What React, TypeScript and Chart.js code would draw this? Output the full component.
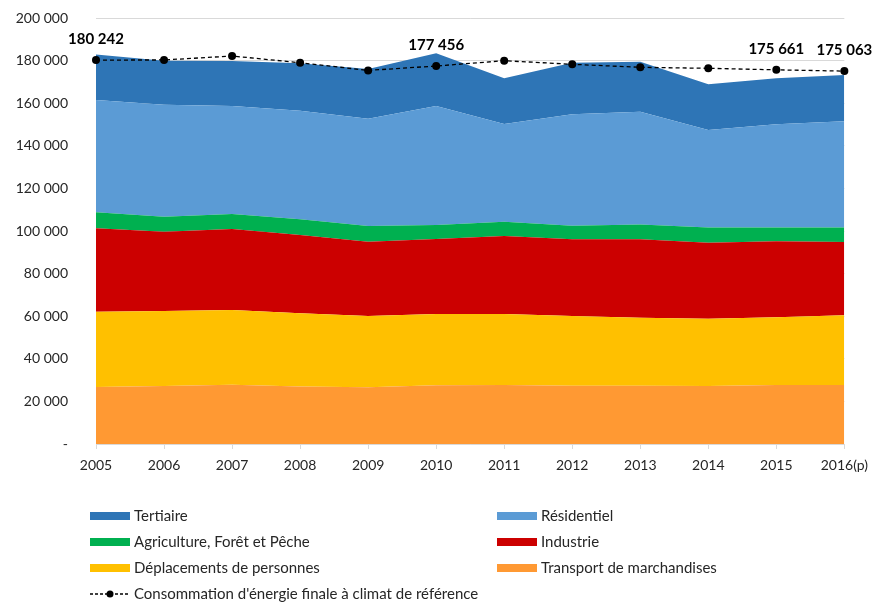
import React, { useEffect, useRef } from "react";
import { Chart, registerables } from "chart.js";

Chart.register(...registerables);

const years = ["2005", "2006", "2007", "2008", "2009", "2010", "2011", "2012", "2013", "2014", "2015", "2016(p)"];
const transport = [26800, 27200, 27800, 27000, 26600, 27600, 27700, 27300, 27300, 27200, 27700, 27700];
const deplacements = [35300, 35200, 35100, 34400, 33500, 33400, 33300, 32800, 32000, 31600, 31800, 32700];
const industrie = [39200, 37300, 38000, 36700, 34900, 35200, 36600, 36000, 36800, 35700, 35700, 34400];
const agriculture = [7500, 7000, 7100, 7400, 7300, 6600, 6800, 6400, 7000, 7100, 6500, 6800];
const residentiel = [52700, 52600, 50700, 51000, 50400, 55900, 45800, 52300, 52900, 45800, 48400, 49900];
const tertiaire = [21400, 20600, 21100, 22200, 23300, 24700, 21500, 24200, 23500, 21500, 21600, 21700];
const reference = [180242, 180300, 182150, 179000, 175400, 177456, 179950, 178260, 176850, 176380, 175661, 175063];
const labelledIndices = [0, 5, 10, 11];

const seriesLabels = [
  "Transport de marchandises",
  "Déplacements de personnes",
  "Industrie",
  "Agriculture, Forêt et Pêche",
  "Résidentiel",
  "Tertiaire",
];
const seriesColors = ["#FF9933", "#FFC000", "#CC0000", "#00B050", "#5B9BD5", "#2E75B6"];
const refLabel = "Consommation d'énergie finale à climat de référence";

const FONT = "Lato, 'Noto Sans', sans-serif";

function fmt(v: number): string {
  if (v === 0) return "-";
  return String(Math.round(v)).replace(/\B(?=(\d{3})+(?!\d))/g, " ");
}

const labelPlugin = {
  id: "refLabels",
  afterDatasetsDraw(chart: any) {
    const idx = chart.data.datasets.length - 1;
    const meta = chart.getDatasetMeta(idx);
    const ctx = chart.ctx;
    ctx.save();
    ctx.font = `bold 15px ${FONT}`;
    ctx.fillStyle = "#000";
    ctx.textAlign = "center";
    ctx.textBaseline = "middle";
    labelledIndices.forEach((i) => {
      const pt = meta.data[i];
      if (!pt) return;
      ctx.fillText(fmt(chart.data.datasets[idx].data[i]), pt.x, pt.y - 21);
    });
    ctx.restore();
  },
};

const legendPlugin = {
  id: "customLegend",
  afterDraw(chart: any) {
    const ctx = chart.ctx;
    const ds = chart.data.datasets;
    const order = [5, 4, 3, 2, 1, 0];
    const colX = [90, 497];
    const rowY = [516, 542, 568, 594];
    ctx.save();
    ctx.font = `15px ${FONT}`;
    ctx.textBaseline = "middle";
    ctx.textAlign = "left";
    order.forEach((di, k) => {
      const x = colX[k % 2];
      const y = rowY[Math.floor(k / 2)];
      ctx.fillStyle = ds[di].backgroundColor;
      ctx.fillRect(x, y - 4, 40, 8);
      ctx.fillStyle = "#262626";
      ctx.fillText(ds[di].label, x + 44, y);
    });
    const ry = rowY[3];
    const rx = colX[0];
    ctx.strokeStyle = "#000";
    ctx.lineWidth = 1.3;
    ctx.setLineDash([3, 2]);
    ctx.beginPath();
    ctx.moveTo(rx, ry);
    ctx.lineTo(rx + 40, ry);
    ctx.stroke();
    ctx.setLineDash([]);
    ctx.fillStyle = "#000";
    ctx.beginPath();
    ctx.arc(rx + 20, ry, 3.5, 0, Math.PI * 2);
    ctx.fill();
    ctx.fillStyle = "#262626";
    ctx.fillText(ds[6].label, rx + 44, ry);
    ctx.restore();
  },
};

export default function App() {
  const ref = useRef<HTMLCanvasElement | null>(null);
  useEffect(() => {
    if (!ref.current) return;
    const series = [transport, deplacements, industrie, agriculture, residentiel, tertiaire];
    const datasets: any[] = series.map((d, i) => ({
      label: seriesLabels[i],
      data: d,
      backgroundColor: seriesColors[i],
      borderColor: "transparent",
      borderWidth: 0,
      pointRadius: 0,
      tension: 0,
      fill: i === 0 ? "origin" : "-1",
      stack: "areas",
    }));
    datasets.push({
      label: refLabel,
      data: reference,
      borderColor: "#000",
      backgroundColor: "#000",
      borderWidth: 1.3,
      borderDash: [4, 3],
      pointRadius: 4,
      pointBackgroundColor: "#000",
      pointBorderWidth: 0,
      tension: 0,
      fill: false,
      stack: "ref",
      order: -1,
      clip: false,
    });
    const chart = new Chart(ref.current, {
      type: "line",
      data: { labels: years, datasets },
      options: {
        responsive: false,
        animation: false,
        events: [],
        layout: { padding: { top: 18, right: 30, left: 0, bottom: 0 } },
        plugins: {
          legend: { display: false },
          tooltip: { enabled: false },
          filler: { drawTime: "beforeDatasetsDraw" },
        } as any,
        scales: {
          x: {
            offset: false,
            grid: { drawOnChartArea: false, drawTicks: true, tickLength: 5, color: "#d9d9d9" },
            border: { color: "#d9d9d9" },
            ticks: { font: { family: FONT, size: 14 }, color: "#262626", padding: 8, maxRotation: 0, autoSkip: false },
            afterFit: (s: any) => {
              s.height = 158;
            },
          },
          y: {
            stacked: true,
            min: 0,
            max: 200000,
            grid: { color: "#d9d9d9", drawTicks: false },
            border: { display: false },
            ticks: {
              stepSize: 20000,
              font: { family: FONT, size: 14 },
              color: "#262626",
              padding: 28,
              callback: (v: any) => fmt(Number(v)),
            },
            afterFit: (s: any) => {
              s.width = 96;
              s.paddingTop = 8;
              s.paddingBottom = 8;
            },
          },
        },
      },
      plugins: [labelPlugin, legendPlugin],
    });
    return () => chart.destroy();
  }, []);
  return (
    <div style={{ position: "fixed", left: 0, top: 0, width: 876, height: 602, background: "#fff" }}>
      <canvas ref={ref} width={876} height={602} style={{ display: "block" }} />
    </div>
  );
}
